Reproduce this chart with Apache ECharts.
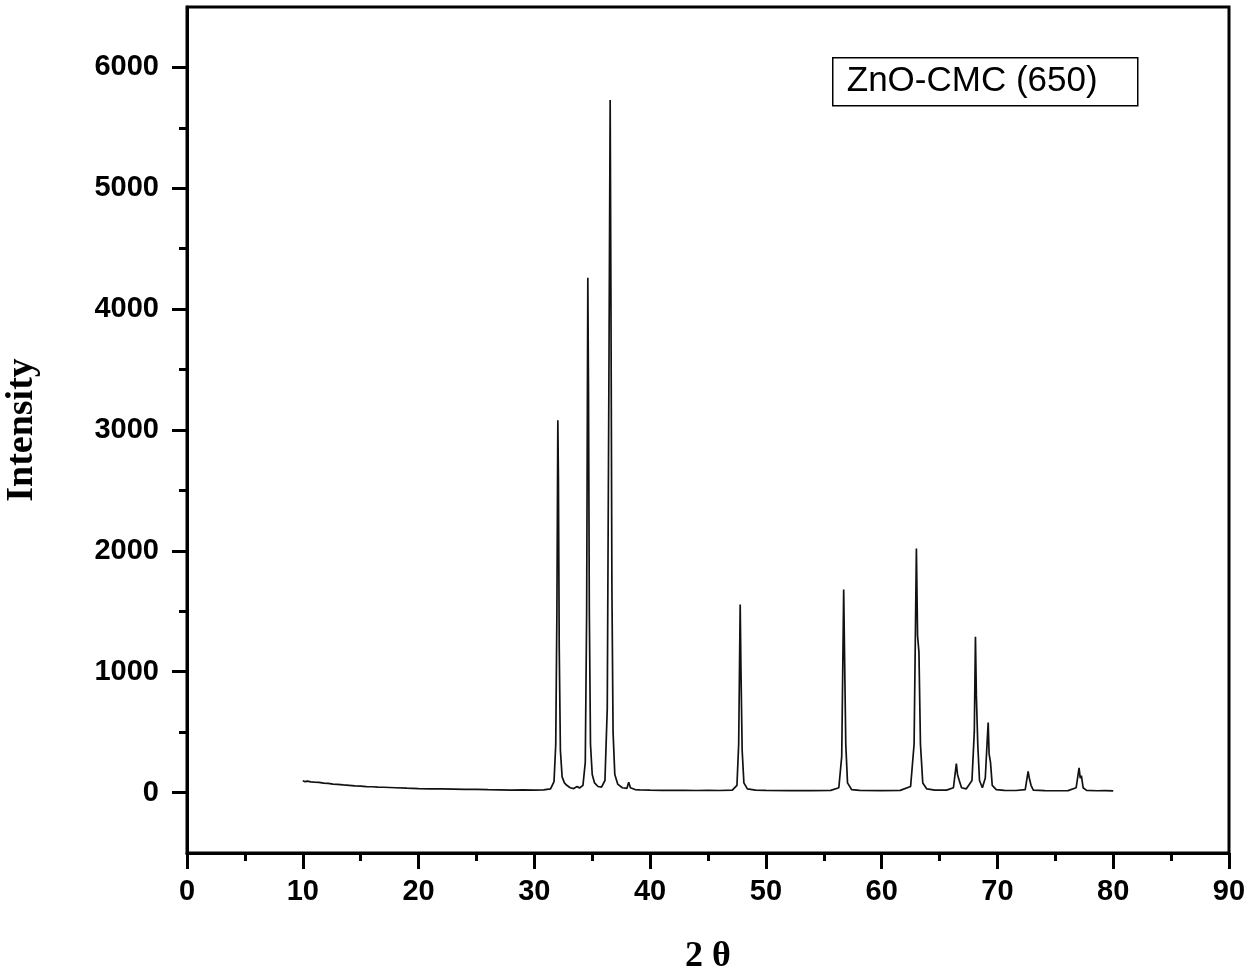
<!DOCTYPE html>
<html>
<head>
<meta charset="utf-8">
<title>ZnO-CMC (650) XRD</title>
<script src="https://cdn.jsdelivr.net/npm/echarts@6/dist/echarts.min.js"></script>
<style>
  html, body { margin: 0; padding: 0; background: #fff; }
  #chart { width: 1250px; height: 974px; }
</style>
</head>
<body>
<div id="chart"></div>
<script>
// 2θ positions and intensities
const twoTheta = [
  10.0, 10.2, 10.4, 10.7, 11.0, 11.4, 11.8, 12.2, 12.6, 13.0, 13.5, 14.0, 14.5, 15.0, 15.5,
  16.0, 16.5, 17.0, 17.5, 18.0, 19.0, 20.0, 21.0, 22.0, 23.0, 24.0, 25.0, 26.0, 27.0, 28.0,
  29.0, 30.0, 30.8, 31.4, 31.7, 31.85, 31.95, 32.03, 32.08, 32.15, 32.25, 32.4, 32.6, 32.8,
  33.1, 33.4, 33.7, 33.9, 34.2, 34.4, 34.52, 34.62, 34.68, 34.75, 34.85, 35.0, 35.2, 35.5,
  35.8, 36.1, 36.3, 36.43, 36.55, 36.62, 36.7, 36.8, 36.95, 37.2, 37.6, 38.0, 38.15, 38.3,
  38.7, 39.1, 40.0, 41.0, 42.0, 43.0, 44.0, 45.0, 46.0, 47.1, 47.5, 47.65, 47.78, 47.85,
  47.95, 48.1, 48.4, 49.1, 50.0, 52.0, 54.0, 55.6, 56.3, 56.55, 56.72, 56.8, 56.9, 57.05,
  57.4, 58.1, 60.0, 61.6, 62.5, 62.8, 63.0, 63.1, 63.22, 63.35, 63.55, 63.9, 64.6, 65.6,
  66.2, 66.45, 66.55, 66.7, 66.9, 67.3, 67.8, 68.0, 68.1, 68.18, 68.3, 68.45, 68.7, 68.95,
  69.1, 69.2, 69.28, 69.4, 69.55, 69.9, 70.6, 71.6, 72.4, 72.65, 72.75, 72.9, 73.1, 74.1,
  75.1, 76.1, 76.8, 77.05, 77.15, 77.25, 77.4, 77.7, 78.6, 79.3, 80.0
];
const intensity = [
  98, 90, 95, 88, 86, 84, 78, 76, 70, 68, 63, 60, 56, 53, 50,
  48, 45, 44, 42, 40, 36, 33, 31, 30, 28, 26, 26, 24, 23, 21,
  22, 21, 23, 30, 90, 400, 1500, 3080, 2600, 1200, 350, 130, 80, 60,
  40, 33, 50, 38, 60, 250, 1500, 4260, 3300, 1500, 400, 150, 80, 50,
  45, 100, 700, 3200, 5730, 4000, 1700, 500, 150, 70, 40, 35, 85, 40,
  25, 22, 20, 19, 18, 18, 17, 18, 17, 20, 60, 400, 1556, 1000,
  350, 80, 30, 20, 18, 16, 16, 18, 40, 300, 1680, 1100, 400, 80,
  25, 18, 16, 18, 50, 400, 2020, 1300, 1160, 400, 80, 30, 20, 20,
  40, 240, 150, 100, 40, 30, 100, 500, 1290, 800, 400, 100, 40, 120,
  400, 580, 320, 250, 60, 25, 18, 17, 25, 175, 120, 60, 20, 16,
  15, 16, 40, 205, 120, 140, 40, 18, 15, 16, 14
];
const yMajorTicks = [0, 1000, 2000, 3000, 4000, 5000, 6000];
const yMinorTicks = [500, 1500, 2500, 3500, 4500, 5500];
const sampleLabel = 'ZnO-CMC (650)';

const chart = echarts.init(document.getElementById('chart'));

const points = twoTheta.map((x, i) => [x, intensity[i]]);
const labelFont = {
  color: '#000',
  fontFamily: 'Liberation Sans',
  fontWeight: 'bold',
  fontSize: 29
};

const option = {
  backgroundColor: '#fff',
  animation: false,
  grid: {
    left: 187,
    top: 7,
    width: 1042,
    height: 846,
    outerBoundsMode: 'none',
    containLabel: false,
    show: true,
    borderColor: '#000',
    borderWidth: 3
  },
  xAxis: {
    type: 'value',
    min: 0,
    max: 90,
    interval: 10,
    name: '2 θ',
    nameLocation: 'middle',
    nameGap: 86,
    nameTextStyle: {
      color: '#000',
      fontFamily: 'Liberation Serif',
      fontWeight: 'bold',
      fontSize: 36
    },
    axisLine: { onZero: false, lineStyle: { color: '#000', width: 3 } },
    axisTick: { inside: false, length: 16, lineStyle: { color: '#000', width: 3 } },
    minorTick: { show: true, splitNumber: 2, length: 8, lineStyle: { color: '#000', width: 3 } },
    axisLabel: Object.assign({ margin: 24 }, labelFont),
    splitLine: { show: false }
  },
  yAxis: [{
    type: 'value',
    min: -500,
    max: 6500,
    name: 'Intensity',
    nameLocation: 'middle',
    nameGap: 146,
    nameTextStyle: {
      color: '#000',
      fontFamily: 'Liberation Serif',
      fontWeight: 'bold',
      fontSize: 38
    },
    axisLine: { onZero: false, lineStyle: { color: '#000', width: 3 } },
    axisTick: { customValues: yMajorTicks, length: 15, lineStyle: { color: '#000', width: 3 } },
    axisLabel: Object.assign({
      margin: 28,
      customValues: yMajorTicks,
      formatter: v => String(v)
    }, labelFont),
    splitLine: { show: false }
  }, {
    type: 'value',
    position: 'left',
    min: -500,
    max: 6500,
    axisLine: { show: false, onZero: false },
    axisTick: { customValues: yMinorTicks, length: 8, lineStyle: { color: '#000', width: 3 } },
    axisLabel: { show: false },
    splitLine: { show: false }
  }],
  graphic: [{
    type: 'group',
    left: 832,
    top: 57,
    children: [{
      type: 'rect',
      shape: { x: 0, y: 0, width: 305, height: 48 },
      style: { fill: '#fff', stroke: '#000', lineWidth: 1.5 }
    }, {
      type: 'text',
      x: 14,
      y: 24,
      style: {
        text: sampleLabel,
        fill: '#000',
        font: '35px "Liberation Sans"',
        verticalAlign: 'middle'
      }
    }]
  }],
  series: [{
    type: 'line',
    data: points,
    symbol: 'none',
    lineStyle: { color: '#111', width: 1.7 }
  }]
};

chart.setOption(option);
</script>
</body>
</html>
